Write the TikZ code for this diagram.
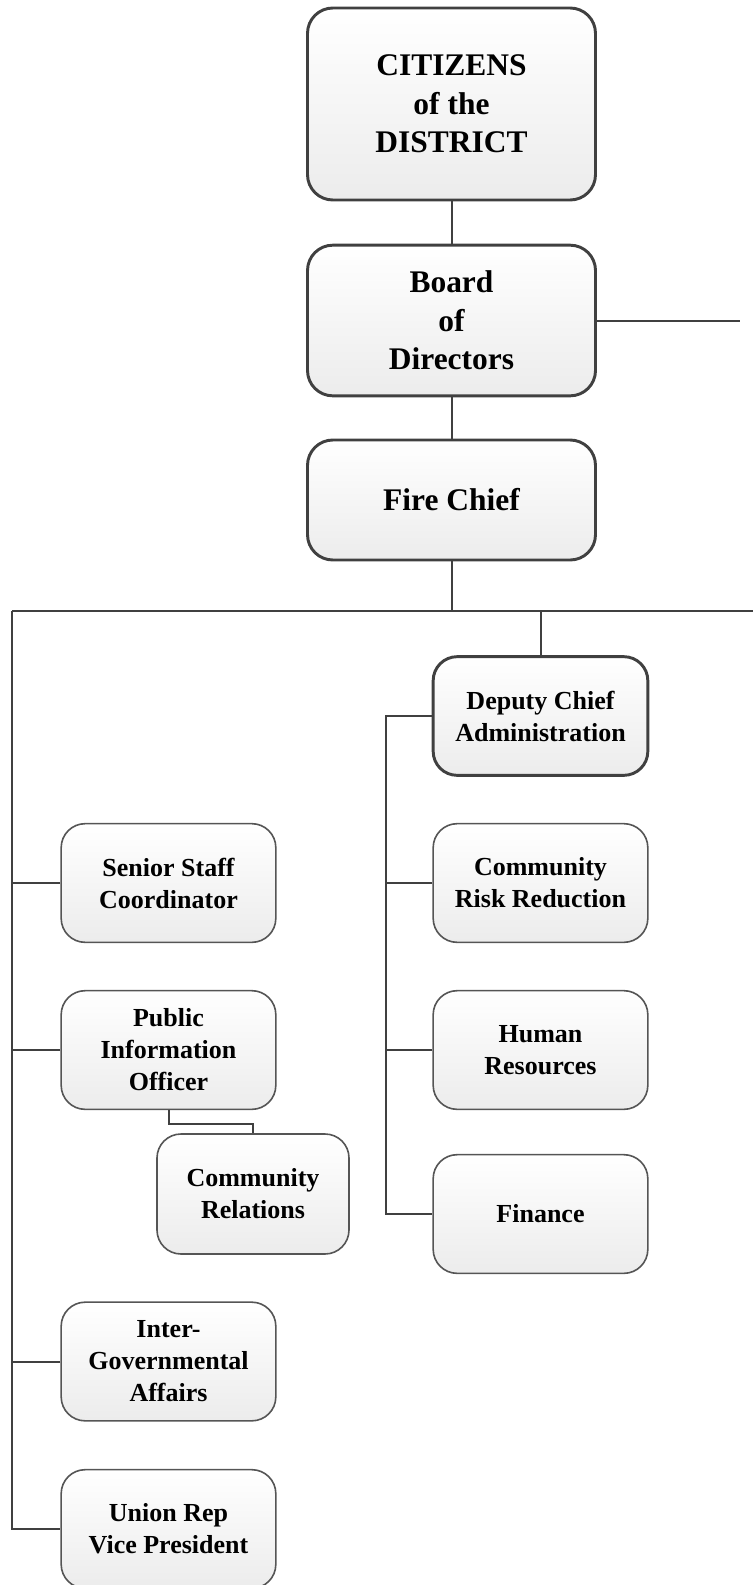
\documentclass[tikz,border=0pt]{standalone}
\usepackage{fontspec}
\setmainfont{Liberation Serif}
\usepackage{tikz}
\definecolor{edgegray}{HTML}{404040}
\definecolor{boxgray}{HTML}{555555}

\begin{document}
\begin{tikzpicture}[x=0.75pt, y=-0.75pt,
    topbox/.style={draw=edgegray, line width=2.2pt, rounded corners=19pt,
        top color=white, bottom color=gray!15, align=center,
        minimum width=216pt,
        font=\fontsize{23.6}{29}\selectfont\bfseries},
    unitbox/.style={draw=boxgray, line width=1.2pt, rounded corners=18pt,
        top color=white, bottom color=gray!15, align=center,
        minimum width=161pt, minimum height=89pt,
        font=\fontsize{19.5}{24}\selectfont\bfseries},
    link/.style={draw=edgegray, line width=1.5pt}]
    \useasboundingbox (0,0) rectangle (755,1585);
    \node(cit)[topbox, minimum height=144pt] at (451.5,104) {CITIZENS\\ of the\\ DISTRICT};
    \node(board)[topbox, minimum height=113pt] at (451.5,320.5) {Board\\ of\\ Directors};
    \node(chief)[topbox, minimum height=90pt] at (451.5,500) {Fire Chief};
    \node(dep)[unitbox, draw=edgegray, line width=2.2pt] at (540.5,716) {Deputy Chief\\ Administration};
    \node(crr)[unitbox] at (540.5,883) {Community\\ Risk Reduction};
    \node(hr)[unitbox] at (540.5,1050) {Human\\ Resources};
    \node(fin)[unitbox] at (540.5,1214) {Finance};
    \node(ssc)[unitbox] at (168.5,883) {Senior Staff\\ Coordinator};
    \node(pio)[unitbox] at (168.5,1050) {Public\\ Information\\ Officer};
    \node(cr)[unitbox, minimum width=144pt, minimum height=90pt] at (253,1194) {Community\\ Relations};
    \node(iga)[unitbox] at (168.5,1361.5) {Inter-\\ Governmental\\ Affairs};
    \node(union)[unitbox] at (168.5,1529) {Union Rep\\ Vice President};
    \coordinate(boardR) at (740,320.5);
    \coordinate(busL) at (12,611);
    \coordinate(busR) at (753,611);
    \coordinate(trunkR) at (386,716);
    \draw[link] (cit.south) -- (board.north);
    \draw[link] (board.south) -- (chief.north);
    \draw[link] (board.east) -- (board.east -| boardR);
    \draw[link] (chief.south) -- (chief.south |- busL);
    \draw[link] (busL) -- (busR);
    \draw[link] (dep.north) -- (dep.north |- busL);
    \draw[link] (busL) |- (union.west);
    \draw[link] (ssc.west) -- (ssc.west -| busL);
    \draw[link] (pio.west) -- (pio.west -| busL);
    \draw[link] (iga.west) -- (iga.west -| busL);
    \draw[link] (pio.south) -- ++(0,14) -| (cr.north);
    \draw[link] (dep.west) -- (trunkR) |- (fin.west);
    \draw[link] (crr.west) -- (crr.west -| trunkR);
    \draw[link] (hr.west) -- (hr.west -| trunkR);
\end{tikzpicture}
\end{document}
